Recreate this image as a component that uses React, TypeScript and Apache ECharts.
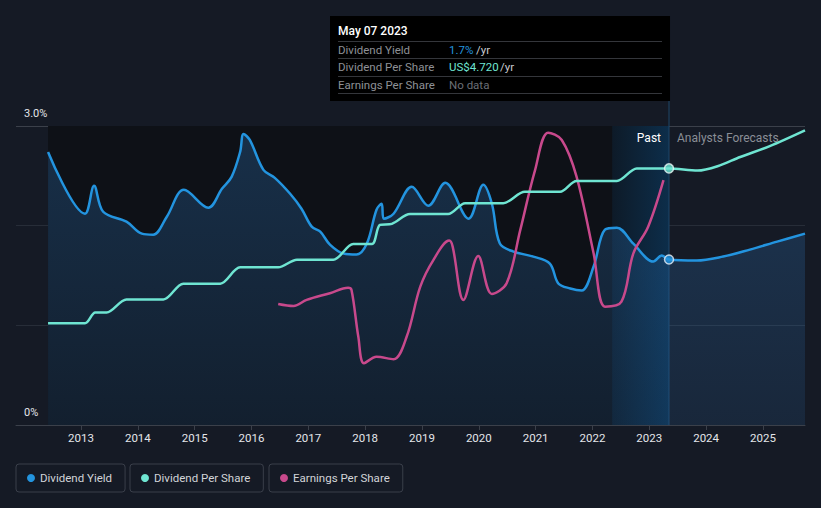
import React, { useEffect, useRef } from 'react';
import * as echarts from 'echarts';

const BG = '#151a25';
const PAST_BG = '#0e1117';
const BLUE = '#2394df';
const TEAL = '#6fe5d2';
const PINK = '#c8498c';
const FONT = 'Roboto, "Noto Sans", sans-serif';

const yearTicks = [2013, 2014, 2015, 2016, 2017, 2018, 2019, 2020, 2021, 2022, 2023, 2024, 2025];
const yAxisTicks = [0, 1, 2, 3];

const cursorDate = 2023.347;
const cursorLabel = 'May 07 2023';
const highlightStart = 2022.347;
const dataStart = 2012.42;

const yieldDates = [2012.42, 2013.07, 2013.23, 2013.39, 2013.80, 2014.07, 2014.27, 2014.51, 2014.81, 2015.24, 2015.48, 2015.65, 2015.80, 2015.86, 2015.97, 2016.21, 2016.41, 2016.68, 2016.88, 2017.06, 2017.21, 2017.38, 2017.62, 2017.85, 2018.03, 2018.20, 2018.29, 2018.33, 2018.50, 2018.82, 2019.11, 2019.41, 2019.82, 2020.08, 2020.23, 2020.37, 2020.61, 2020.96, 2021.25, 2021.40, 2021.61, 2021.81, 2022.02, 2022.22, 2022.43, 2022.72, 2023.07, 2023.22, 2023.347, 2023.83, 2024.30, 2024.77, 2025.25, 2025.74];
const yieldValues = [2.74, 2.12, 2.40, 2.14, 2.04, 1.92, 1.91, 2.09, 2.36, 2.18, 2.37, 2.49, 2.74, 2.92, 2.86, 2.56, 2.48, 2.32, 2.17, 1.99, 1.94, 1.81, 1.72, 1.71, 1.82, 2.16, 2.22, 2.07, 2.12, 2.39, 2.20, 2.43, 2.07, 2.41, 2.22, 1.82, 1.74, 1.69, 1.62, 1.42, 1.37, 1.35, 1.59, 1.96, 1.98, 1.82, 1.64, 1.70, 1.66, 1.65, 1.69, 1.76, 1.84, 1.92];

const dpsDates = [2012.42, 2013.07, 2013.25, 2013.45, 2013.80, 2014.45, 2014.80, 2015.45, 2015.80, 2016.47, 2016.80, 2017.44, 2017.79, 2018.12, 2018.26, 2018.47, 2018.79, 2019.46, 2019.76, 2020.43, 2020.81, 2021.43, 2021.72, 2022.43, 2022.78, 2023.347, 2023.85, 2024.20, 2024.60, 2025.12, 2025.74];
const dpsValues = [1.87, 1.87, 2.07, 2.07, 2.31, 2.31, 2.60, 2.60, 2.90, 2.90, 3.04, 3.04, 3.33, 3.33, 3.68, 3.70, 3.88, 3.88, 4.08, 4.08, 4.29, 4.29, 4.49, 4.49, 4.72, 4.72, 4.68, 4.76, 4.93, 5.13, 5.42];

const epsDates = [2016.47, 2016.74, 2016.97, 2017.38, 2017.70, 2017.76, 2017.88, 2017.98, 2018.20, 2018.50, 2018.73, 2018.97, 2019.20, 2019.48, 2019.54, 2019.73, 2019.99, 2020.23, 2020.49, 2020.73, 2020.99, 2021.22, 2021.46, 2021.72, 2022.02, 2022.22, 2022.51, 2022.72, 2022.98, 2023.25];
const epsValues = [4.86, 4.78, 5.02, 5.29, 5.51, 5.42, 3.54, 2.48, 2.74, 2.64, 3.54, 5.55, 6.62, 7.40, 7.16, 5.02, 6.78, 5.26, 5.69, 7.83, 10.23, 11.73, 11.44, 9.97, 6.89, 4.75, 4.95, 6.89, 7.96, 9.83];

const cursorYield = 1.66;
const cursorDps = 4.72;
const tooltipRows = [
  { label: 'Dividend Yield', value: '1.7%', color: BLUE, unit: '/yr' },
  { label: 'Dividend Per Share', value: 'US$4.720', color: TEAL, unit: '/yr' },
  { label: 'Earnings Per Share', value: 'No data', color: '#6b6f76', unit: '' },
];

const zip = (xs: number[], ys: number[]) => xs.map((x, i) => [x, ys[i]]);

function legendBox(name: string, left: number) {
  return {
    show: true,
    data: [name],
    left,
    top: 464,
    orient: 'horizontal',
    icon: 'circle',
    itemWidth: 8,
    itemHeight: 9,
    itemGap: 0,
    selectedMode: false,
    borderColor: '#3a3f4a',
    borderWidth: 1,
    borderRadius: 3,
    padding: [8, 13, 8, 11],
    textStyle: { color: '#d2d4d8', fontSize: 11.5, fontFamily: FONT },
  };
}

export default function App() {
  const ref = useRef<HTMLDivElement>(null);
  useEffect(() => {
    document.body.style.margin = '0';
    document.body.style.background = BG;
    const chart = echarts.init(ref.current!, null, { renderer: 'svg' });
    const option: any = {
      animation: false,
      backgroundColor: BG,
      tooltip: { show: false },
      grid: { left: 16, right: 16, top: 126, bottom: 83, containLabel: false },
      legend: [
        legendBox('Dividend Yield', 16),
        legendBox('Dividend Per Share', 130),
        legendBox('Earnings Per Share', 269),
      ],
      xAxis: {
        type: 'value',
        min: 2011.856,
        max: 2025.74,
        splitLine: { show: false },
        axisLine: { show: true, lineStyle: { color: '#3b404a', width: 1 } },
        axisTick: { show: true, customValues: yearTicks, length: 5, lineStyle: { color: '#3b404a' } },
        axisLabel: {
          customValues: yearTicks,
          formatter: (v: number) => String(Math.round(v)),
          color: '#e4e6ea',
          fontSize: 11.5,
          fontFamily: FONT,
          margin: 7,
        },
      },
      yAxis: [
        {
          type: 'value',
          min: 0,
          max: 3,
          interval: 1,
          axisLine: { show: false },
          axisTick: { show: false },
          splitLine: {
            show: true,
            lineStyle: { color: ['#3b404a', '#272d38', '#272d38', '#3b404a'], width: 1 },
          },
          axisLabel: {
            inside: true,
            margin: 8,
            verticalAlign: 'bottom',
            padding: [0, 0, 7, 0],
            color: '#e4e6ea',
            fontSize: 11,
            fontFamily: FONT,
            formatter: (v: number) => (v === yAxisTicks[3] ? '3.0%' : v === yAxisTicks[0] ? '0%' : ''),
          },
        },
        { type: 'value', min: 0, max: 5.5, show: false },
        { type: 'value', min: 0, max: 12, show: false },
      ],
      series: [
        {
          name: 'Dividend Yield',
          type: 'line',
          yAxisIndex: 0,
          data: zip(yieldDates, yieldValues),
          smooth: 0.35,
          showSymbol: false,
          symbol: 'none',
          color: BLUE,
          lineStyle: { color: BLUE, width: 2.5 },
          areaStyle: {
            origin: 'start',
            color: new echarts.graphic.LinearGradient(0, 0, 0, 1, [
              { offset: 0, color: 'rgba(48,125,200,0.40)' },
              { offset: 1, color: 'rgba(48,125,200,0.19)' },
            ]),
          },
          z: 3,
          markArea: {
            silent: true,
            data: [
              [
                { xAxis: dataStart, itemStyle: { color: PAST_BG } },
                { xAxis: cursorDate },
              ],
              [
                {
                  xAxis: highlightStart,
                  itemStyle: {
                    color: new echarts.graphic.LinearGradient(0, 0, 1, 0, [
                      { offset: 0, color: 'rgba(10,85,145,0.14)' },
                      { offset: 1, color: 'rgba(10,85,145,0.42)' },
                    ]),
                  },
                },
                { xAxis: cursorDate },
              ],
            ],
          },
        },
        {
          name: 'Dividend Per Share',
          type: 'line',
          yAxisIndex: 1,
          data: zip(dpsDates, dpsValues),
          smooth: 0.3,
          showSymbol: false,
          symbol: 'none',
          color: TEAL,
          lineStyle: { color: TEAL, width: 2.5 },
          z: 4,
        },
        {
          name: 'Earnings Per Share',
          type: 'line',
          yAxisIndex: 2,
          data: zip(epsDates, epsValues),
          smooth: 0.35,
          showSymbol: false,
          symbol: 'none',
          color: PINK,
          lineStyle: { color: PINK, width: 2.5 },
          z: 3,
        },
        {
          name: 'yieldCursor',
          type: 'scatter',
          yAxisIndex: 0,
          data: [[cursorDate, cursorYield]],
          symbolSize: 9,
          itemStyle: { color: BLUE, borderColor: '#e8eef5', borderWidth: 1.5 },
          z: 6,
          silent: true,
        },
        {
          name: 'dpsCursor',
          type: 'scatter',
          yAxisIndex: 1,
          data: [[cursorDate, cursorDps]],
          symbolSize: 9,
          itemStyle: { color: TEAL, borderColor: '#e8f8f5', borderWidth: 1.5 },
          z: 6,
          silent: true,
        },
      ],
    };
    chart.setOption(option);

    const px = chart.convertToPixel({ xAxisIndex: 0 }, cursorDate) as number;
    const yTop = chart.convertToPixel({ yAxisIndex: 0 }, 3) as number;
    const yBottom = chart.convertToPixel({ yAxisIndex: 0 }, 0) as number;
    const boxLeft = px - 339;
    const textLeft = boxLeft + 8;
    const valueLeft = boxLeft + 119;
    const sepYs = [41.5, 58.5, 76.5, 93.5];
    const rowYs = [50, 67, 84.5];
    const unitOffsets = [27, 51, 0];

    const graphic: any[] = [
      {
        type: 'line',
        shape: { x1: px, y1: 101, x2: px, y2: yBottom },
        style: { stroke: '#1e4768', lineWidth: 1 },
        z: 1,
      },
      {
        type: 'rect',
        shape: { x: boxLeft, y: 16, width: 340, height: 85 },
        style: { fill: '#000000' },
        z: 10,
      },
      {
        type: 'text',
        x: textLeft,
        y: 31,
        style: { text: cursorLabel, fill: '#ffffff', font: `500 12px ${FONT}`, verticalAlign: 'middle' },
        z: 11,
      },
      ...sepYs.map((y) => ({
        type: 'line',
        shape: { x1: textLeft, y1: y, x2: px - 7, y2: y },
        style: { stroke: '#34363b', lineWidth: 1 },
        z: 11,
      })),
      ...tooltipRows.flatMap((r, i) => {
        const items: any[] = [
          {
            type: 'text',
            x: textLeft,
            y: rowYs[i],
            style: { text: r.label, fill: '#8e9196', font: `11.5px ${FONT}`, verticalAlign: 'middle' },
            z: 11,
          },
          {
            type: 'text',
            x: valueLeft,
            y: rowYs[i],
            style: { text: r.value, fill: r.color, font: `11.5px ${FONT}`, verticalAlign: 'middle' },
            z: 11,
          },
        ];
        if (r.unit) {
          items.push({
            type: 'text',
            x: valueLeft + unitOffsets[i],
            y: rowYs[i],
            style: { text: r.unit, fill: '#c9cbcf', font: `11.5px ${FONT}`, verticalAlign: 'middle' },
            z: 11,
          });
        }
        return items;
      }),
      {
        type: 'text',
        x: px - 8,
        y: yTop + 12,
        style: { text: 'Past', fill: '#ffffff', font: `12px ${FONT}`, align: 'right', verticalAlign: 'middle' },
        z: 11,
      },
      {
        type: 'text',
        x: px + 8,
        y: yTop + 12,
        style: { text: 'Analysts Forecasts', fill: '#8a8e96', font: `12px ${FONT}`, align: 'left', verticalAlign: 'middle' },
        z: 11,
      },
    ];
    chart.setOption({ graphic });
    return () => chart.dispose();
  }, []);
  return <div ref={ref} style={{ position: 'fixed', left: 0, top: 0, width: 821, height: 508 }} />;
}
